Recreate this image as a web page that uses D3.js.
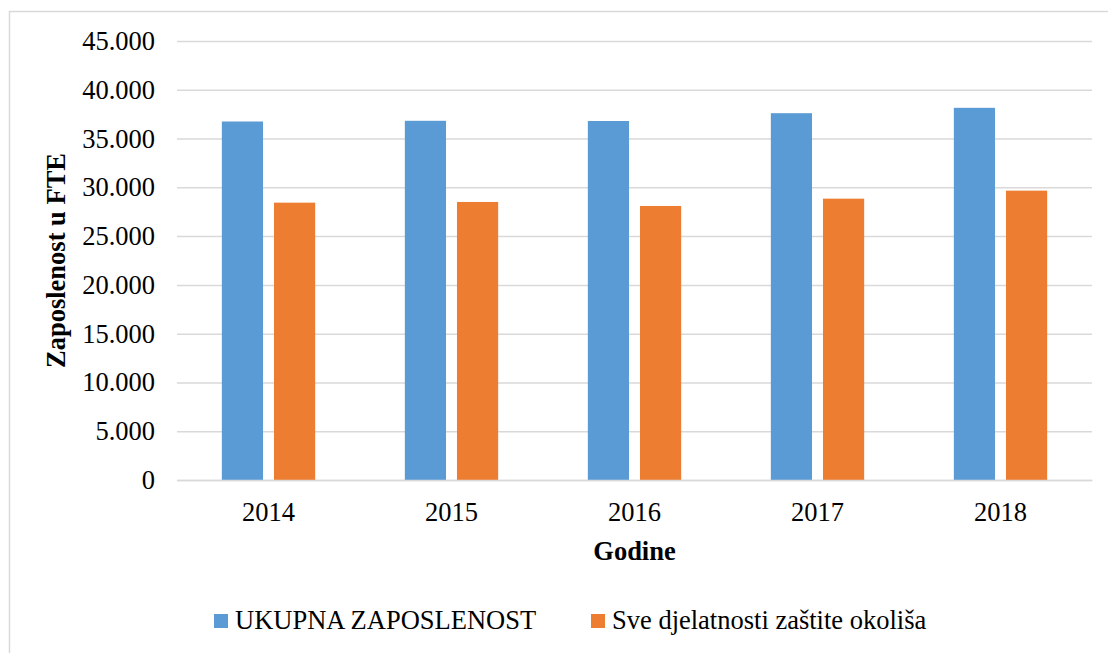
<!DOCTYPE html>
<html>
<head>
<meta charset="utf-8">
<script src="https://cdn.jsdelivr.net/npm/d3@7"></script>
<style>
  body { margin: 0; background: #fff; }
  svg text { font-family: "Times New Roman", "Liberation Serif", Times, serif; fill: #000; }
</style>
</head>
<body>
<div id="chart"></div>
<script>
// data
const years = ['2014', '2015', '2016', '2017', '2018'];
const seriesNames = ['UKUPNA ZAPOSLENOST', 'Sve djelatnosti zaštite okoliša'];
const ukupna = [36750, 36820, 36800, 37600, 38150];
const okolis = [28430, 28500, 28090, 28840, 29660];
const yTicks = [0, 5000, 10000, 15000, 20000, 25000, 30000, 35000, 40000, 45000];

const W = 1108, H = 653;
const margin = { top: 41, right: 16, bottom: 172, left: 177 };
const colors = ['#5B9BD5', '#ED7D31'];
const fontSize = 26.5;
const serif = '"Times New Roman", "Liberation Serif", Times, serif';

const svg = d3.select('#chart').append('svg')
  .attr('width', W).attr('height', H);

// outer chart frame (right/bottom edges fall outside the picture)
svg.append('rect')
  .attr('x', 9.5).attr('y', 11.5)
  .attr('width', W + 20).attr('height', H + 20)
  .attr('fill', 'none').attr('stroke', '#d9d9d9').attr('stroke-width', 1.5);

const x0 = d3.scaleBand()
  .domain(years)
  .range([margin.left, W - margin.right])
  .paddingInner(0.49).paddingOuter(0.245);

const x1 = d3.scaleBand()
  .domain(d3.range(seriesNames.length))
  .range([0, x0.bandwidth()])
  .paddingInner(0.21);

const y = d3.scaleLinear()
  .domain([0, 45000])
  .range([H - margin.bottom - 1, margin.top]);

const fmt = v => d3.format(',')(v).replace(/,/g, '.');

// gridlines
const yAxis = d3.axisLeft(y).tickValues(yTicks)
  .tickSize(-(W - margin.right - margin.left)).tickFormat(fmt).tickPadding(22);
const gy = svg.append('g').attr('transform', `translate(${margin.left},0)`).call(yAxis)
  .attr('font-family', serif).attr('font-size', fontSize);
gy.select('.domain').remove();
gy.selectAll('.tick line').attr('stroke', '#d9d9d9').attr('stroke-width', 1.5);
gy.selectAll('.tick text').attr('fill', '#000');

// bars
const table = years.map((yr, i) => ({ year: yr, values: [ukupna[i], okolis[i]] }));
const groups = svg.selectAll('.grp').data(table).enter().append('g')
  .attr('transform', d => `translate(${x0(d.year)},0)`);
groups.selectAll('rect').data(d => d.values).enter().append('rect')
  .attr('x', (d, i) => x1(i))
  .attr('width', x1.bandwidth())
  .attr('y', d => y(d))
  .attr('height', d => y(0) - y(d))
  .attr('fill', (d, i) => colors[i]);

// x axis
const xAxis = d3.axisBottom(x0).tickSize(0).tickPadding(22);
const gx = svg.append('g').attr('transform', `translate(0,${y(0)})`).call(xAxis)
  .attr('font-family', serif).attr('font-size', fontSize);
gx.select('.domain').attr('stroke', '#d9d9d9').attr('stroke-width', 1.5);
gx.selectAll('.tick text').attr('fill', '#000');

// axis titles
svg.append('text')
  .attr('transform', `translate(65,${(y(0) + y(45000)) / 2}) rotate(-90)`)
  .attr('text-anchor', 'middle')
  .attr('font-family', serif)
  .style('font-size', fontSize + 'px').style('font-weight', 'bold')
  .text('Zaposlenost u FTE');

svg.append('text')
  .attr('x', (margin.left + W - margin.right) / 2)
  .attr('y', 560)
  .attr('text-anchor', 'middle')
  .attr('font-family', serif)
  .style('font-size', fontSize + 'px').style('font-weight', 'bold')
  .text('Godine');

// legend
const legendX = [214, 591];
const leg = svg.selectAll('.leg').data(seriesNames).enter().append('g')
  .attr('transform', (d, i) => `translate(${legendX[i]},614)`);
leg.append('rect').attr('width', 14).attr('height', 14)
  .attr('fill', (d, i) => colors[i]);
leg.append('text').attr('x', 21).attr('y', 15)
  .attr('font-family', serif)
  .style('font-size', fontSize + 'px')
  .text(d => d);
</script>
</body>
</html>
